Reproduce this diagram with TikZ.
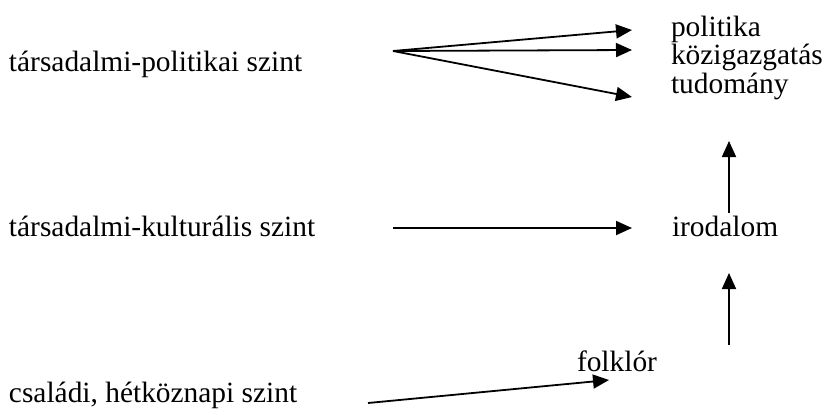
\documentclass[tikz,border=0pt]{standalone}
\usepackage{fontspec}
\setmainfont{Liberation Serif}
\usetikzlibrary{arrows.meta}
\begin{document}
\begin{tikzpicture}[x=1pt,y=-1pt,
  lbl/.style={anchor=base west,inner sep=0pt,outer sep=0pt,font=\fontsize{29.4}{34}\selectfont},
  arr/.style={line width=1.8pt,-{Triangle[length=16pt,width=14pt]}}]
\useasboundingbox (0,0) rectangle (823,408);
% labels
\node[lbl] (tp) at (9,71) {társadalmi-politikai szint};
\node[lbl] (tk) at (9,236) {társadalmi-kulturális szint};
\node[lbl] (cs) at (9,402) {családi, hétköznapi szint};
\node[lbl] (pol) at (671,36) {politika};
\node[lbl] (koz) at (671,64) {közigazgatás};
\node[lbl] (tud) at (671,93) {tudomány};
\node[lbl] (iro) at (672,236) {irodalom};
\node[lbl] (fol) at (577,371) {folklór};
% arrow endpoints
\coordinate (s1) at (393,51);
\coordinate (e1) at (632,30);
\coordinate (e2) at (632,50);
\coordinate (e3) at (632,97);
\coordinate (s2) at (393,228);
\coordinate (e4) at (632,228);
\coordinate (s3) at (729,213);
\coordinate (e5) at (729,141);
\coordinate (s4) at (729,345);
\coordinate (e6) at (729,273);
\coordinate (s5) at (368,403);
\coordinate (e7) at (609,380);
% arrows
\draw[arr] (s1) -- (e1);
\draw[arr] (s1) -- (e2);
\draw[arr] (s1) -- (e3);
\draw[arr] (s2) -- (e4);
\draw[arr] (s3) -- (e5);
\draw[arr] (s4) -- (e6);
\draw[arr] (s5) -- (e7);
\end{tikzpicture}
\end{document}
